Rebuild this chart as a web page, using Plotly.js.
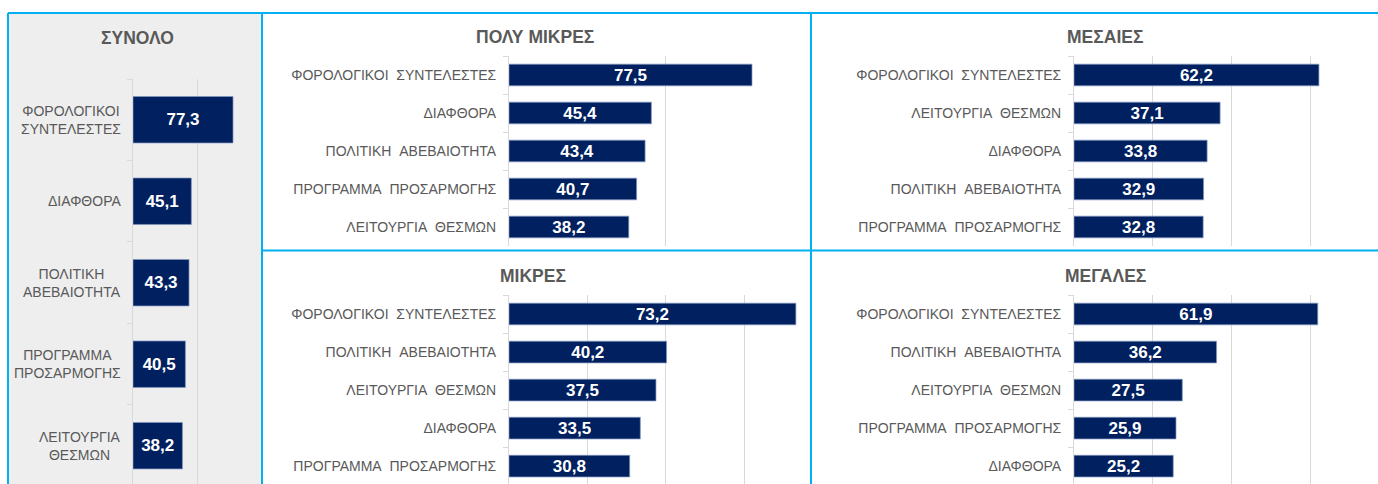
<!DOCTYPE html>
<html>
<head>
<meta charset="utf-8">
<script src="https://cdn.plot.ly/plotly-3.0.1.min.js"></script>
<style>html,body{margin:0;padding:0;background:#fff;}#chart{width:1378px;height:484px;}</style>
</head>
<body>
<div id="chart"></div>
<script>
// ---- data ----
const totalTitle = 'ΣΥΝΟΛΟ';
const totalCats = ['ΦΟΡΟΛΟΓΙΚΟΙ ΣΥΝΤΕΛΕΣΤΕΣ','ΔΙΑΦΘΟΡΑ','ΠΟΛΙΤΙΚΗ ΑΒΕΒΑΙΟΤΗΤΑ','ΠΡΟΓΡΑΜΜΑ ΠΡΟΣΑΡΜΟΓΗΣ','ΛΕΙΤΟΥΡΓΙΑ ΘΕΣΜΩΝ'];
const totalVals = [77.3, 45.1, 43.3, 40.5, 38.2];

const verySmallTitle = 'ΠΟΛΥ ΜΙΚΡΕΣ';
const verySmallCats = ['ΦΟΡΟΛΟΓΙΚΟΙ ΣΥΝΤΕΛΕΣΤΕΣ','ΔΙΑΦΘΟΡΑ','ΠΟΛΙΤΙΚΗ ΑΒΕΒΑΙΟΤΗΤΑ','ΠΡΟΓΡΑΜΜΑ ΠΡΟΣΑΡΜΟΓΗΣ','ΛΕΙΤΟΥΡΓΙΑ ΘΕΣΜΩΝ'];
const verySmallVals = [77.5, 45.4, 43.4, 40.7, 38.2];

const mediumTitle = 'ΜΕΣΑΙΕΣ';
const mediumCats = ['ΦΟΡΟΛΟΓΙΚΟΙ ΣΥΝΤΕΛΕΣΤΕΣ','ΛΕΙΤΟΥΡΓΙΑ ΘΕΣΜΩΝ','ΔΙΑΦΘΟΡΑ','ΠΟΛΙΤΙΚΗ ΑΒΕΒΑΙΟΤΗΤΑ','ΠΡΟΓΡΑΜΜΑ ΠΡΟΣΑΡΜΟΓΗΣ'];
const mediumVals = [62.2, 37.1, 33.8, 32.9, 32.8];

const smallTitle = 'ΜΙΚΡΕΣ';
const smallCats = ['ΦΟΡΟΛΟΓΙΚΟΙ ΣΥΝΤΕΛΕΣΤΕΣ','ΠΟΛΙΤΙΚΗ ΑΒΕΒΑΙΟΤΗΤΑ','ΛΕΙΤΟΥΡΓΙΑ ΘΕΣΜΩΝ','ΔΙΑΦΘΟΡΑ','ΠΡΟΓΡΑΜΜΑ ΠΡΟΣΑΡΜΟΓΗΣ'];
const smallVals = [73.2, 40.2, 37.5, 33.5, 30.8];

const largeTitle = 'ΜΕΓΑΛΕΣ';
const largeCats = ['ΦΟΡΟΛΟΓΙΚΟΙ ΣΥΝΤΕΛΕΣΤΕΣ','ΠΟΛΙΤΙΚΗ ΑΒΕΒΑΙΟΤΗΤΑ','ΛΕΙΤΟΥΡΓΙΑ ΘΕΣΜΩΝ','ΠΡΟΓΡΑΜΜΑ ΠΡΟΣΑΡΜΟΓΗΣ','ΔΙΑΦΘΟΡΑ'];
const largeVals = [61.9, 36.2, 27.5, 25.9, 25.2];

// ---- layout helpers ----
const W = 1378, H = 484;
const px = x => x / W;
const py = y => 1 - y / H;
const FONT = 'Liberation Sans, Arial, sans-serif';
const GRAY = '#595959';
const NAVY = '#002060';
const BORDER = '#00b0f0';
const fmt = v => v.toFixed(1).replace('.', ',');

function barTrace(cats, vals, xa, ya) {
  return {
    type: 'bar', orientation: 'h',
    y: cats, x: vals, xaxis: xa, yaxis: ya,
    width: 0.57,
    marker: {color: NAVY, line: {color: 'rgba(130,150,190,0.9)', width: 0.8}},
    text: vals.map(fmt), textposition: 'inside', insidetextanchor: 'middle',
    textangle: 0, constraintext: 'none',
    textfont: {family: FONT, size: 17, color: '#ffffff', weight: 'bold'},
    hoverinfo: 'skip', showlegend: false
  };
}

const data = [
  barTrace(totalCats, totalVals, 'x', 'y'),
  barTrace(verySmallCats, verySmallVals, 'x2', 'y2'),
  barTrace(mediumCats, mediumVals, 'x3', 'y3'),
  barTrace(smallCats, smallVals, 'x4', 'y4'),
  barTrace(largeCats, largeVals, 'x5', 'y5')
];

function xAxis(l, r, range, dtick, anchor) {
  return {domain: [px(l), px(r)], range: range, dtick: dtick, tick0: 0,
    showgrid: true, gridcolor: '#d9d9d9', gridwidth: 1, zeroline: false,
    showticklabels: false, ticks: '', showline: false, anchor: anchor, fixedrange: true};
}
function yAxis(top, bottom, range, anchor, cats, showLabels) {
  return {domain: [py(bottom), py(top)], range: range, type: 'category',
    categoryorder: 'array', categoryarray: cats,
    showline: true, linecolor: '#d9d9d9', linewidth: 1,
    ticks: 'outside', tickson: 'boundaries', ticklen: 5, tickcolor: '#d9d9d9',
    showgrid: false, zeroline: false, anchor: anchor, fixedrange: true,
    showticklabels: showLabels,
    tickvals: cats, ticktext: cats.map(c => c.replace(' ', '\u00a0\u00a0')),
    tickfont: {family: FONT, size: 14, color: GRAY}, ticklabelstandoff: 9};
}

const layout = {
  width: W, height: H,
  margin: {l: 0, r: 0, t: 0, b: 0, pad: 0},
  paper_bgcolor: '#ffffff', plot_bgcolor: 'rgba(0,0,0,0)',
  font: {family: FONT, color: GRAY},
  showlegend: false,
  xaxis:  xAxis(133, 262, [0, 99.7], 50, 'y'),
  yaxis:  yAxis(79, 484, [4.47, -0.5], 'x', totalCats, false),
  xaxis2: xAxis(509, 810, [0, 96], 50, 'y2'),
  yaxis2: yAxis(56, 246, [4.5, -0.5], 'x2', verySmallCats, true),
  xaxis3: xAxis(1074, 1378, [0, 77.2], 20, 'y3'),
  yaxis3: yAxis(56, 246, [4.5, -0.5], 'x3', mediumCats, true),
  xaxis4: xAxis(509, 810, [0, 76.8], 20, 'y4'),
  yaxis4: yAxis(295, 484, [4.47, -0.5], 'x4', smallCats, true),
  xaxis5: xAxis(1074, 1378, [0, 77.2], 20, 'y5'),
  yaxis5: yAxis(295, 484, [4.47, -0.5], 'x5', largeCats, true),
  shapes: [
    {type: 'rect', xref: 'paper', yref: 'paper', x0: px(8), x1: px(262), y0: py(484), y1: py(13),
     fillcolor: '#eeeeee', line: {width: 0}, layer: 'below'},
    {type: 'line', xref: 'paper', yref: 'paper', x0: px(8), x1: 1, y0: py(13), y1: py(13), line: {color: BORDER, width: 2}, layer: 'above'},
    {type: 'line', xref: 'paper', yref: 'paper', x0: px(8), x1: px(8), y0: py(13), y1: 0, line: {color: BORDER, width: 2}, layer: 'above'},
    {type: 'line', xref: 'paper', yref: 'paper', x0: px(262), x1: px(262), y0: py(13), y1: 0, line: {color: BORDER, width: 2}, layer: 'above'},
    {type: 'line', xref: 'paper', yref: 'paper', x0: px(811), x1: px(811), y0: py(13), y1: 0, line: {color: BORDER, width: 2}, layer: 'above'},
    {type: 'line', xref: 'paper', yref: 'paper', x0: px(262), x1: 1, y0: py(250.5), y1: py(250.5), line: {color: BORDER, width: 2}, layer: 'above'}
  ],
  annotations: []
};

function title(text, x, y) {
  layout.annotations.push({text: text, xref: 'paper', yref: 'paper', x: px(x), y: py(y),
    xanchor: 'center', yanchor: 'middle', showarrow: false,
    font: {family: FONT, size: 17.5, color: GRAY, weight: 'bold'}});
}
title(totalTitle, 137, 38);
title(verySmallTitle, 535, 37);
title(mediumTitle, 1105, 37);
title(smallTitle, 533, 276);
title(largeTitle, 1105, 276);

// left panel two-line category labels (centered lines, right-aligned block)
totalCats.forEach(c => {
  layout.annotations.push({text: c.replace(' ', '<br>'), xref: 'paper', yref: 'y', x: px(123), y: c,
    xanchor: 'right', yanchor: 'middle', align: 'center', showarrow: false,
    font: {family: FONT, size: 14, color: GRAY}});
});

Plotly.newPlot('chart', data, layout, {staticPlot: true, displayModeBar: false});
</script>
</body>
</html>
